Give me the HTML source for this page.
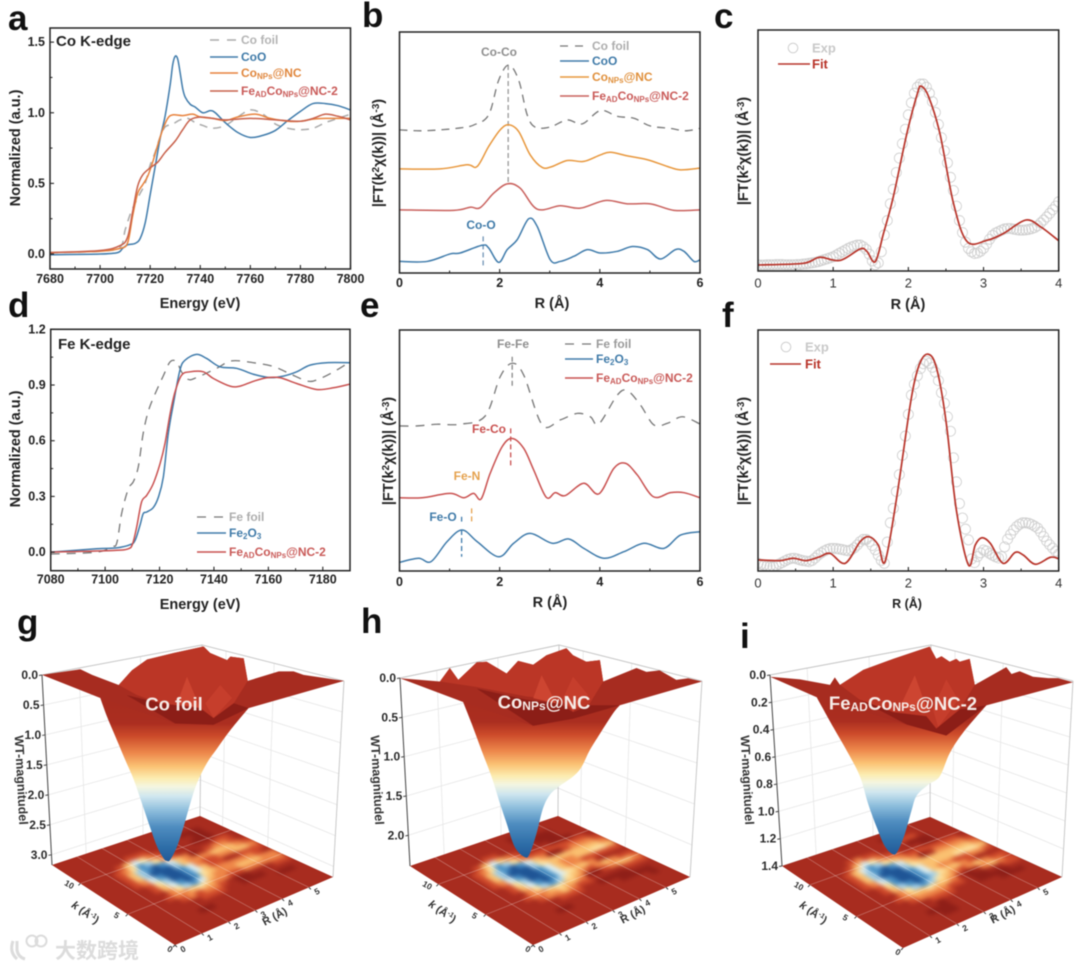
<!DOCTYPE html>
<html lang="en">
<head>
<meta charset="utf-8">
<title>XAS and wavelet transform figure</title>
<style>
html,body{margin:0;padding:0;background:#fff;}
svg{display:block;font-family:"Liberation Sans","Noto Sans CJK SC",sans-serif;filter:blur(0.4px);}
.b{font-weight:bold;}
.pl{font-weight:bold;font-size:35px;fill:#111;}
.ax{font-weight:bold;font-size:14.5px;fill:#222;text-anchor:middle;}
.yl{font-weight:bold;font-size:14.5px;fill:#222;text-anchor:middle;}
.lg{font-weight:bold;font-size:12px;dominant-baseline:central;}
.an{font-weight:bold;font-size:12px;text-anchor:middle;dominant-baseline:central;}
.sl{font-weight:bold;fill:#f6ece8;text-anchor:middle;dominant-baseline:central;}
.fl{font-weight:bold;font-size:12px;fill:#333;text-anchor:middle;dominant-baseline:central;}
</style>
</head>
<body>
<svg id="fig" xmlns="http://www.w3.org/2000/svg" width="1080" height="969" viewBox="0 0 1080 969">
<defs>
<filter id="soft" x="-5%" y="-5%" width="110%" height="110%" color-interpolation-filters="sRGB"><feGaussianBlur stdDeviation="2.1"/></filter>
</defs>
<rect width="1080" height="969" fill="#fff"/>
<g id="layer-a"></g>
<g id="layer-b"></g>
<g id="layer-c"></g>
<g id="layer-d"></g>
<g id="layer-e"></g>
<g id="layer-f"></g>
<g id="layer-g"></g>
<g id="layer-h"></g>
<g id="layer-i"></g>

<text class="pl" x="8" y="30">a</text>
<text class="pl" x="362" y="27">b</text>
<text class="pl" x="714" y="28">c</text>
<text class="pl" x="8" y="317">d</text>
<text class="pl" x="360" y="317">e</text>
<text class="pl" x="722" y="327">f</text>
<text class="pl" x="17" y="634">g</text>
<text class="pl" x="361" y="633">h</text>
<text class="pl" x="740" y="648">i</text>

<!-- axis titles -->
<text class="ax" x="0" y="0" transform="translate(20,148) rotate(-90)">Normalized (a.u.)</text>
<text class="ax" x="200" y="308">Energy (eV)</text>
<text class="ax" x="552" y="308">R (Å)</text>
<text class="ax" x="908" y="309">R (Å)</text>
<text class="ax" x="0" y="0" transform="translate(20,449) rotate(-90)">Normalized (a.u.)</text>
<text class="ax" x="200" y="609">Energy (eV)</text>
<text class="ax" x="550" y="607">R (Å)</text>
<text class="ax" x="907" y="608" style="font-size:12.5px">R (Å)</text>

<text class="yl" transform="translate(383,153) rotate(-90)">|FT(k<tspan dy="-4" font-size="10">2</tspan><tspan dy="4">χ(k))| (Å</tspan><tspan dy="-4" font-size="10">-3</tspan><tspan dy="4">)</tspan></text>
<text class="yl" transform="translate(748,151) rotate(-90)">|FT(k<tspan dy="-4" font-size="10">2</tspan><tspan dy="4">χ(k))| (Å</tspan><tspan dy="-4" font-size="10">-3</tspan><tspan dy="4">)</tspan></text>
<text class="yl" transform="translate(393,451) rotate(-90)">|FT(k<tspan dy="-4" font-size="10">2</tspan><tspan dy="4">χ(k))| (Å</tspan><tspan dy="-4" font-size="10">-3</tspan><tspan dy="4">)</tspan></text>
<text class="yl" transform="translate(748,451) rotate(-90)">|FT(k<tspan dy="-4" font-size="10">2</tspan><tspan dy="4">χ(k))| (Å</tspan><tspan dy="-4" font-size="10">-3</tspan><tspan dy="4">)</tspan></text>

<!-- panel a annotations and legend -->
<text class="b" x="56" y="46" font-size="15" fill="#222">Co K-edge</text>
<line x1="210" y1="40" x2="237" y2="40" stroke="#aaa" stroke-width="1.4" stroke-dasharray="9 8"/>
<text class="lg" x="241" y="40" fill="#b4b4b4">Co foil</text>
<line x1="210" y1="57" x2="238" y2="57" stroke="#3f7bab" stroke-width="1.4"/>
<text class="lg" x="241" y="57" fill="#3f7aa8">CoO</text>
<line x1="210" y1="73" x2="238" y2="73" stroke="#e8823c" stroke-width="1.4"/>
<text class="lg" x="241" y="73" fill="#e0863c">Co<tspan dy="3" font-size="8">NPs</tspan><tspan dy="-3">@NC</tspan></text>
<line x1="210" y1="91" x2="238" y2="91" stroke="#c8604a" stroke-width="1.4"/>
<text class="lg" x="241" y="91" fill="#c95a58">Fe<tspan dy="3" font-size="8">AD</tspan><tspan dy="-3">Co</tspan><tspan dy="3" font-size="8">NPs</tspan><tspan dy="-3">@NC-2</tspan></text>

<!-- panel b annotations and legend -->
<text class="an" x="499" y="52" fill="#8e8e8e">Co-Co</text>
<text class="an" x="481" y="225" fill="#3f7aa8">Co-O</text>
<line x1="560" y1="46" x2="587" y2="46" stroke="#777" stroke-width="1.3" stroke-dasharray="8 7"/>
<text class="lg" x="592" y="46" fill="#adadad">Co foil</text>
<line x1="560" y1="61" x2="589" y2="61" stroke="#3f7bab" stroke-width="1.4"/>
<text class="lg" x="592" y="61" fill="#3f7aa8">CoO</text>
<line x1="560" y1="77" x2="589" y2="77" stroke="#e8973c" stroke-width="1.4"/>
<text class="lg" x="592" y="77" fill="#e0903c">Co<tspan dy="3" font-size="8">NPs</tspan><tspan dy="-3">@NC</tspan></text>
<line x1="560" y1="96" x2="589" y2="96" stroke="#c9605c" stroke-width="1.4"/>
<text class="lg" x="592" y="96" fill="#c95a58">Fe<tspan dy="3" font-size="8">AD</tspan><tspan dy="-3">Co</tspan><tspan dy="3" font-size="8">NPs</tspan><tspan dy="-3">@NC-2</tspan></text>

<!-- panel c legend -->
<circle cx="793" cy="48" r="4.8" fill="none" stroke="#c8c8c8" stroke-width="0.9"/>
<text class="lg" x="812" y="48" style="font-size:13px" fill="#c9c9c9">Exp</text>
<line x1="778" y1="64" x2="810" y2="64" stroke="#b8342a" stroke-width="1.6"/>
<text class="lg" x="812" y="64" style="font-size:13px" fill="#b8342a">Fit</text>

<!-- panel d annotations and legend -->
<text class="b" x="58" y="349" font-size="15" fill="#222">Fe K-edge</text>
<line x1="197" y1="517" x2="224" y2="517" stroke="#777" stroke-width="1.3" stroke-dasharray="9 8"/>
<text class="lg" x="229" y="517" fill="#adadad">Fe foil</text>
<line x1="197" y1="533" x2="226" y2="533" stroke="#3f7bab" stroke-width="1.4"/>
<text class="lg" x="229" y="533" fill="#3f7aa8">Fe<tspan dy="3" font-size="8">2</tspan><tspan dy="-3">O</tspan><tspan dy="3" font-size="8">3</tspan></text>
<line x1="197" y1="552" x2="226" y2="552" stroke="#c9504f" stroke-width="1.4"/>
<text class="lg" x="229" y="552" fill="#c95a58">Fe<tspan dy="3" font-size="8">AD</tspan><tspan dy="-3">Co</tspan><tspan dy="3" font-size="8">NPs</tspan><tspan dy="-3">@NC-2</tspan></text>

<!-- panel e annotations and legend -->
<text class="an" x="513" y="344" fill="#8e8e8e">Fe-Fe</text>
<text class="an" x="489" y="429" fill="#c9504f">Fe-Co</text>
<text class="an" x="467" y="476" fill="#e5a24e">Fe-N</text>
<text class="an" x="443" y="517" fill="#3f7aa8">Fe-O</text>
<line x1="565" y1="344" x2="592" y2="344" stroke="#777" stroke-width="1.3" stroke-dasharray="9 8"/>
<text class="lg" x="596" y="344" fill="#9a9a9a">Fe foil</text>
<line x1="565" y1="359" x2="593" y2="359" stroke="#3f7bab" stroke-width="1.4"/>
<text class="lg" x="596" y="359" fill="#3f7aa8">Fe<tspan dy="3" font-size="8">2</tspan><tspan dy="-3">O</tspan><tspan dy="3" font-size="8">3</tspan></text>
<line x1="565" y1="378" x2="593" y2="378" stroke="#c9504f" stroke-width="1.4"/>
<text class="lg" x="596" y="378" fill="#c95a58">Fe<tspan dy="3" font-size="8">AD</tspan><tspan dy="-3">Co</tspan><tspan dy="3" font-size="8">NPs</tspan><tspan dy="-3">@NC-2</tspan></text>

<!-- panel f legend -->
<circle cx="786" cy="347" r="4.8" fill="none" stroke="#c8c8c8" stroke-width="0.9"/>
<text class="lg" x="805" y="347" style="font-size:13px" fill="#c9c9c9">Exp</text>
<line x1="770" y1="364" x2="801" y2="364" stroke="#b8342a" stroke-width="1.6"/>
<text class="lg" x="805" y="364" style="font-size:13px" fill="#b8342a">Fit</text>

<!-- 3D labels -->
<text class="sl" x="174" y="704" font-size="18.5">Co foil</text>
<text class="sl" x="544" y="702" font-size="18.5">Co<tspan dy="4" font-size="12">NPs</tspan><tspan dy="-4">@NC</tspan></text>
<text class="sl" x="903" y="703" font-size="18.5">Fe<tspan dy="4" font-size="12">AD</tspan><tspan dy="-4">Co</tspan><tspan dy="4" font-size="12">NPs</tspan><tspan dy="-4">@NC-2</tspan></text>

<text class="fl" transform="translate(21,780) rotate(87)" style="font-size:12.5px">WT-magnitudel</text>
<text class="fl" transform="translate(377,780) rotate(87)" style="font-size:12.5px">WT-magnitudel</text>
<text class="fl" transform="translate(747,780) rotate(87)" style="font-size:12.5px">WT-magnitudel</text>
<text class="fl" transform="translate(85,913) rotate(35)" style="font-size:11px"><tspan font-style="italic">k</tspan> (Å<tspan dy="-3" font-size="7">-1</tspan><tspan dy="3">)</tspan></text>
<text class="fl" transform="translate(442,912) rotate(35)" style="font-size:11px"><tspan font-style="italic">k</tspan> (Å<tspan dy="-3" font-size="7">-1</tspan><tspan dy="3">)</tspan></text>
<text class="fl" transform="translate(813,913) rotate(35)" style="font-size:11px"><tspan font-style="italic">k</tspan> (Å<tspan dy="-3" font-size="7">-1</tspan><tspan dy="3">)</tspan></text>
<text class="fl" transform="translate(275,917) rotate(-28)" style="font-size:11px">R (Å)</text>
<text class="fl" transform="translate(633,915) rotate(-28)" style="font-size:11px">R (Å)</text>
<text class="fl" transform="translate(1003,915) rotate(-28)" style="font-size:11px">R (Å)</text>

<!-- watermark -->
<g>
<path d="M13 941 Q9 952 17 959 M17 941 L17 950 Q18 957 25 959" fill="none" stroke="#dcdcdc" stroke-width="3"/>
<circle cx="32" cy="941" r="5.5" fill="none" stroke="#dcdcdc" stroke-width="2"/>
<circle cx="41" cy="941" r="5.5" fill="none" stroke="#dcdcdc" stroke-width="2"/>
<text x="55" y="958" font-size="21" font-weight="bold" fill="#dcdcdc" style="font-family:'Liberation Sans','Noto Sans CJK SC',sans-serif">大数跨境</text>
</g>
</svg>

<script>
/* ---------- panel a: Co K-edge XANES ---------- */
const aXTicks=[7680,7700,7720,7740,7760,7780,7800];
const aXMinor=[7690,7710,7730,7750,7770,7790];
const aYTicks=[0,0.5,1,1.5];
const aYMinor=[0.25,0.75,1.25];
const aFoilE=[7680,7700,7708,7710,7712,7714,7716,7718,7720,7722,7724,7726,7729,7732,7735,7738,7741,7745,7750,7755,7760,7765,7770,7775,7780,7785,7790,7795,7800];
const aFoilY=[0.01,0.02,0.05,0.17,0.28,0.36,0.43,0.5,0.63,0.72,0.83,0.9,0.92,0.95,0.96,0.93,0.91,0.89,0.91,0.97,1.02,0.99,0.92,0.89,0.88,0.89,0.93,0.96,0.99];
const aCooE=[7680,7700,7707,7709,7711,7714,7716,7718,7720,7722,7724,7726,7728,7729,7730,7731,7732,7733,7734,7736,7738,7741,7744,7746,7750,7755,7760,7765,7770,7775,7780,7785,7790,7795,7800];
const aCooY=[-0.005,0,0.01,0.04,0.065,0.075,0.11,0.22,0.42,0.62,0.82,0.98,1.2,1.34,1.4,1.38,1.28,1.17,1.11,1.06,1.04,1,1.015,1,0.93,0.86,0.825,0.84,0.875,0.945,1.01,1.065,1.065,1.05,1.02];
const aNpsE=[7680,7700,7708,7711,7713,7715,7717,7719,7721,7723,7725,7727,7729,7733,7737,7740,7745,7750,7755,7762,7768,7775,7780,7785,7790,7800];
const aNpsY=[0.01,0.02,0.04,0.08,0.27,0.43,0.49,0.55,0.65,0.77,0.88,0.96,0.985,0.98,0.99,0.97,0.96,0.945,0.97,0.99,0.96,0.94,0.94,0.955,0.96,0.96];
const aFeadE=[7680,7700,7708,7711,7713,7715,7717,7720,7723,7726,7730,7733,7736,7740,7745,7750,7760,7770,7780,7785,7790,7795,7800];
const aFeadY=[0.01,0.025,0.06,0.12,0.3,0.48,0.56,0.61,0.65,0.72,0.8,0.88,0.95,0.97,0.96,0.95,0.96,0.95,0.94,0.96,0.99,0.975,0.95];

/* ---------- panel b: Co R-space FT (arbitrary offset units) ---------- */
const rTicks6=[0,2,4,6];
const rMinor6=[1,3,5];
const bFoilR=[0,0.41,0.81,1.21,1.48,1.78,1.98,2.18,2.38,2.55,2.71,3.01,3.35,3.65,4.01,4.35,4.68,5.01,5.41,5.71,6];
const bFoilY=[59.4,59,59.4,60.2,61.4,65.6,80,86.3,80,65.6,60.5,60.6,63.5,61.9,67.4,65,64.2,61,60,59,60];
const bNpsR=[0,0.81,1.35,1.55,1.78,2.01,2.18,2.38,2.61,2.85,3.05,3.35,3.68,4.01,4.21,4.55,4.95,5.35,5.61,6];
const bNpsY=[43.2,43.2,44.9,44.2,52.5,59.4,61.5,58.7,49,43.8,44.2,46.7,46.3,49,50.1,48.6,47,44.2,42.8,43.5];
const bFeadR=[0,1.08,1.41,1.61,1.88,2.15,2.41,2.75,3.21,3.61,4.11,4.55,5.01,5.48,6];
const bFeadY=[26.2,26,27.3,27.1,33.1,37,35.2,26.5,27.9,26.9,30.1,28.7,28.7,26,26.2];
const bCooR=[0,0.55,1.01,1.21,1.65,1.78,1.98,2.15,2.35,2.58,2.75,3.01,3.21,3.48,3.75,4.01,4.35,4.65,4.95,5.21,5.51,5.68,5.88,6];
const bCooY=[4.8,4.8,7.9,8.3,11.5,10.4,4.4,9.7,13.8,22.5,19.3,5.5,4.8,6.9,9.7,8.3,9,11,9.7,5.8,9.7,9,4.8,5.5];

/* ---------- panel c: Co fit ---------- */
const rTicks4=[0,1,2,3,4];
const rMinor4=[0.5,1.5,2.5,3.5];
const expStep=0.04;
const cExpY=[2.5,2.5,2.5,2.6,2.6,2.6,2.7,2.7,2.7,2.6,2.6,2.6,2.6,2.7,2.7,2.9,3,3.2,3.4,3.6,3.9,4.3,4.7,5.1,5.5,5.9,6.6,7.3,8,8.7,9.4,10,10.4,10.8,10.8,10.1,9,7,4.2,2.6,3.4,8,15,21,28,34,41,47,53,59,65,70,74,76.5,77.8,77.8,76.5,74,70.5,66,61,55.5,50,45,39,33.5,27,21,16,12,9.4,8,7.3,7.5,8.2,9.4,11.2,13.2,14.8,15.8,16.4,17,17.5,17.7,17.7,17.4,17.2,17,17,17.1,17.3,17.6,18.1,18.8,20,21.2,22.5,24,25.5,27,28.8];
const cFitR=[0,0.6,0.82,1.09,1.36,1.45,1.56,1.67,1.8,1.98,2.12,2.17,2.27,2.42,2.6,2.78,3.04,3.27,3.56,3.76,4];
const cFitY=[2.5,3.2,5.7,4.4,9.2,8.1,3.9,15.7,30.9,57.2,73.8,76.9,72.5,57.2,28.2,12.3,12.7,15.7,21.2,18.4,12.6];

/* ---------- panel d: Fe K-edge XANES ---------- */
const dXTicks=[7080,7100,7120,7140,7160,7180];
const dXMinor=[7090,7110,7130,7150,7170];
const dYTicks=[0,0.3,0.6,0.9,1.2];
const dYMinor=[0.15,0.45,0.75,1.05];
const dFoilE=[7080,7096.9,7102.4,7104.3,7106.1,7108.5,7110.4,7112.2,7114,7115.9,7118.3,7121.4,7123.9,7126.3,7128.1,7130.6,7133.6,7141,7146.5,7154.5,7161.8,7168,7174.7,7179,7183.9,7190];
const dFoilY=[-0.01,0,0.03,0.05,0.21,0.34,0.38,0.46,0.64,0.76,0.85,0.95,1.025,1.025,0.97,0.93,0.94,0.99,1.03,1.02,1,0.96,0.92,0.935,0.97,1.025];
const dOxE=[7080,7096.9,7104.3,7109.2,7111,7112.8,7114,7115.3,7117.7,7119.6,7121.4,7123.2,7125.1,7127.5,7129.4,7133.6,7137.3,7142.2,7148.3,7154.5,7160.6,7165.5,7170.4,7175.3,7181.4,7190];
const dOxY=[0,0.018,0.023,0.04,0.063,0.144,0.207,0.216,0.24,0.297,0.405,0.638,0.8,0.98,1.034,1.065,1.043,0.998,0.99,0.958,0.94,0.948,0.971,1.007,1.02,1.02];
const dFeadE=[7080,7103,7108.5,7110.1,7111.6,7113.4,7115.3,7117.7,7120.2,7122,7123.9,7125.7,7128.1,7131.2,7136.1,7139.8,7145.9,7149.6,7154.5,7159.4,7164.3,7170.4,7177.7,7183.9,7190];
const dFeadY=[0,0.009,0.018,0.045,0.135,0.27,0.306,0.369,0.477,0.585,0.746,0.863,0.953,0.971,0.971,0.935,0.894,0.894,0.92,0.939,0.939,0.908,0.876,0.885,0.905];

/* ---------- panel e: Fe R-space FT ---------- */
const eFoilR=[0,0.35,0.75,1.21,1.71,2.01,2.25,2.48,2.85,3.21,3.55,3.81,3.98,4.35,4.55,4.81,5.08,5.35,5.65,6];
const eFoilY=[60.2,60.2,60.9,60.9,64.3,80.6,86.2,81.3,60.6,62.7,65.4,64,61,73,74.8,68.9,60.6,61.3,64,61];
const eFeadR=[0,0.45,1.01,1.28,1.48,1.63,1.81,2.05,2.25,2.48,2.68,2.93,3.11,3.31,3.68,3.98,4.28,4.51,4.75,5.07,5.41,5.68,6];
const eFeadY=[30.4,30.4,32.2,30.4,32.2,29.9,40.5,51.6,55,50.9,41.9,30.6,32.5,31.3,36.4,32,42.6,44.7,39.8,30.8,32.5,32.5,30.4];
const eOxR=[0,0.38,0.63,0.95,1.25,1.55,1.98,2.28,2.61,3.05,3.38,3.68,4.08,4.48,4.88,5.28,5.61,6];
const eOxY=[3.6,5.3,3.9,12.2,17,12.2,5.9,11.5,15.6,11.5,13.3,9.4,5.3,8,11.5,9.4,14.9,16.3];

/* ---------- panel f: Fe fit ---------- */
const fExpY=[3.2,2.8,2.4,2.1,1.9,1.8,2.3,2.9,3.5,4.2,4.8,5.2,5.3,5,4.6,4.3,4.1,3.9,4.4,5.4,6.6,7.5,8.3,8.9,9.3,9.4,9.3,9.1,8.9,8.6,8.4,8.8,9.6,10.8,12.2,13.1,13.1,12.2,10.6,8.8,6.6,4.4,3.2,12,20,26,33,40,48,56,65,73,77.5,81,84,86,87,86.2,84.5,82.5,79,74,69.6,64,58,47,37,28,22,17.4,12.9,5,3.5,6,7.5,8.7,8.3,7.3,6.5,5.9,5.4,6,10,13.2,15.2,17,18.4,19.4,20,20,19.8,19.3,18.6,17.8,16.2,14.3,12.4,10.9,9.5,8.2,7];
const fFitR=[0,0.29,0.47,0.64,0.82,0.96,1.16,1.36,1.48,1.6,1.69,1.84,2.02,2.1,2.18,2.26,2.34,2.42,2.51,2.64,2.8,2.89,2.98,3.09,3.26,3.42,3.53,3.69,3.89,4];
const fFitY=[4.6,4.3,5.3,4.3,5.9,7.3,3.2,12.2,14.2,10.8,3.9,29.5,68,81,88,90,87.5,78,60,25,2.5,10.8,13.8,11.5,3.2,7.7,6.6,2.8,5.7,5.1];

/* ---------- shared surface colour map ---------- */
const heatLevels=['#8f1f18','#a82c1f','#cf4a2b','#ee8648','#fac070','#fde2a0','#dcedef','#a4cfe6','#4a90c4','#1f5596'];
const funnelStops=[0,0.25,0.32,0.415,0.487,0.55,0.596,0.65,0.724,0.815,0.924,1];
const funnelColors=['#a52a1e','#ab2e20','#cc4a2a','#ee8a4d','#fbc375','#fcecb0','#f4f6e0','#cfe6ef','#8fbfdd','#4f8dc0','#2e6ea8','#225a98'];

/* ---------- panel g: Co foil WT ---------- */
const gZTicks=[0,0.5,1,1.5,2,2.5,3];
const gZLabels=['0.0','0.5','1.0','1.5','2.0','2.5','3.0'];
const gRLabels=[0,1,2,3,4,5];
const gKLabels=[0,5,10];
const gRimCross=[0,12.7,16.6,25.4,29.8,34.8,43.6,53.5,55.7,61.3,62.4,66.8,68.1,78.4,83.3,86.6,100,68.4,56.8,44.1,19.3];
const gRimWT=[-0.04,-0.135,-0.04,0.13,-0.12,-0.3,-0.41,-0.52,-0.41,-0.29,-0.35,-0.32,0.06,-0.1,-0.1,-0.04,0.06,0.52,0.8,0.78,0.35];
const gWallCross=[25.4,29.8,34.8,43.6,53.5,55.7,61.3,62.4,66.8,68.1,63.5,56.8,52.4,39.2,31.5];
const gWallWT=[0.13,-0.12,-0.3,-0.41,-0.52,-0.41,-0.29,-0.35,-0.32,0.06,0.44,0.69,0.52,0.44,0.3];
const gBandCross=[28,39.2,52.4,56.8,63.5,68.4,56.8,44.1];
const gBandWT=[0.3,0.44,0.52,0.69,0.44,0.52,0.8,0.78];
const gRidgeACross=[48,52.4,44.7];
const gRidgeAWT=[-0.01,0.52,0.44];
const gRidgeBCross=[59,62.9,56.8,54.1];
const gRidgeBWT=[0.13,0.35,0.69,0.44];
const gLeftCross=[19.3,21.5,24.3,27.6,30.4,33.1,35.9,38.1,40.3,41.4];
const gLeftWT=[0.35,0.66,1,1.4,1.73,2.13,2.55,2.86,3.06,3.1];
const gRightCross=[42.5,44.7,46.9,49.1,51.3,54.6,58,62.4,68.4];
const gRightWT=[3.08,2.86,2.52,2.13,1.79,1.45,1.2,0.89,0.52];
const gHeat=[
[1,1,1,1,1,1,1,1,1,1,1,1,1,1,1,1,1,1,1,1],
[1,1,1,1,1,1,1,1,1,1,1,1,1,1,1,1,1,1,1,1],
[1,1,1,1,1,1,1,1,1,1,1,1,1,1,1,0,0,0,1,1],
[1,1,1,1,1,1,1,2,2,2,1,1,1,1,1,1,0,0,1,1],
[1,1,1,1,1,2,4,6,5,3,2,1,1,1,1,0,0,0,1,1],
[1,1,1,1,2,3,5,8,7,5,3,2,1,1,1,1,1,2,2,1],
[1,1,1,1,2,4,7,8,9,8,6,4,3,0,1,2,3,3,2,1],
[1,1,1,1,2,4,7,9,9,9,7,4,3,3,3,4,4,4,3,2],
[1,1,1,1,2,3,6,8,9,9,8,6,3,2,2,3,3,4,4,3],
[1,1,1,1,1,2,5,7,9,9,8,6,4,2,2,1,1,2,2,2],
[1,1,1,1,1,2,4,6,8,9,8,5,4,3,3,3,3,3,2,1],
[1,1,1,1,1,1,3,5,7,8,6,4,3,3,3,4,4,4,3,3],
[1,1,1,1,1,2,3,3,4,5,4,3,3,2,2,3,3,3,3,3],
[1,1,1,1,1,1,2,3,2,3,3,2,1,0,0,1,1,1,2,2],
[1,1,1,1,1,1,1,1,2,2,2,1,1,0,0,0,1,1,1,1],
[1,1,1,1,1,1,1,1,1,1,1,1,1,1,1,1,1,0,0,1],
[1,1,1,1,1,1,0,0,1,1,1,1,1,1,1,1,1,1,1,1],
[1,1,1,1,1,1,1,1,1,1,1,1,1,1,1,1,1,1,1,1],
[1,1,1,1,1,1,1,1,1,1,1,1,1,1,1,1,1,1,1,1],
[1,1,1,1,1,1,1,1,1,1,1,1,1,1,1,1,1,1,1,1]];

/* ---------- panel h: CoNPs@NC WT ---------- */
const hZTicks=[0,0.5,1,1.5,2];
const hZLabels=['0.0','0.5','1.0','1.5','2.0'];
const hRLabels=[0,1,2,3,4,5];
const hKLabels=[0,5,10];
const hRimCross=[0,13.2,16.5,19.3,25.4,28.7,35.3,39.1,44.1,48.5,55.1,57.3,61.7,66.2,67.3,78.3,81.6,86,91.5,95.4,100,72.8,57.3,44.1,20.9];
const hRimWT=[0.02,0.06,-0.11,0.04,-0.18,-0.19,-0.04,-0.2,-0.15,-0.27,-0.36,-0.27,-0.19,-0.21,0.06,-0.11,-0.06,-0.08,0.04,0.02,0.06,0.36,0.51,0.62,0.32];
const hWallCross=[13.2,16.5,19.3,25.4,28.7,35.3,39.1,44.1,48.5,55.1,57.3,61.7,66.2,67.3,62.8,57.3,52.9,41.9,25.4];
const hWallWT=[0.06,-0.11,0.04,-0.18,-0.19,-0.04,-0.2,-0.15,-0.27,-0.36,-0.27,-0.19,-0.21,0.06,0.34,0.42,0.29,0.25,0.13];
const hBandCross=[25.4,41.9,52.9,57.3,62.8,72.8,57.3,44.1];
const hBandWT=[0.15,0.29,0.34,0.45,0.36,0.36,0.53,0.62];
const hRidgeACross=[46.9,51.8,44.1];
const hRidgeAWT=[-0.02,0.34,0.27];
const hRidgeBCross=[57.3,62.3,57.3,54];
const hRidgeBWT=[0,0.23,0.44,0.27];
const hLeftCross=[20.9,23.7,27,30.3,33.1,35.3,38,41.4];
const hLeftWT=[0.32,0.59,0.93,1.26,1.6,1.85,2.15,2.28];
const hRightCross=[43,45.2,47.2,49.1,51.8,57.3,60.1,62.8,66.2,70.6,72.8];
const hRightWT=[2.23,1.98,1.68,1.52,1.41,1.26,1.14,0.93,0.72,0.46,0.36];
const hHeat=[
[1,1,1,1,1,1,1,1,1,1,1,1,1,1,1,1,1,1,1,1],
[1,1,1,1,1,1,1,1,1,1,1,1,0,0,0,1,1,1,1,1],
[1,1,1,1,1,1,1,1,1,1,1,1,0,0,0,0,0,1,1,1],
[1,1,1,1,1,1,1,2,2,1,1,1,1,1,0,0,0,1,1,1],
[1,1,1,1,1,2,4,6,4,3,2,1,1,1,1,0,0,0,1,1],
[1,1,1,1,2,3,5,8,7,5,3,2,2,2,2,2,2,2,2,1],
[1,1,1,1,2,4,7,8,9,8,6,4,3,0,0,2,3,3,3,2],
[1,1,1,1,2,4,7,9,9,9,7,5,4,4,4,4,4,4,4,3],
[1,1,1,1,2,3,6,8,9,9,8,6,4,3,3,4,4,5,5,4],
[1,1,1,1,1,2,5,7,9,9,8,6,4,3,3,2,2,2,2,2],
[1,1,1,1,1,2,4,6,8,9,8,6,5,4,4,3,1,1,1,1],
[1,1,1,1,1,1,3,5,7,8,7,5,4,3,2,3,4,3,2,2],
[1,1,1,1,1,2,3,3,4,5,4,4,3,0,0,2,3,4,4,3],
[1,1,1,1,1,1,2,3,3,4,3,2,2,1,1,1,1,2,2,2],
[1,1,1,1,1,1,1,1,2,2,2,1,1,0,0,0,0,1,1,1],
[1,1,1,1,1,1,1,1,1,1,1,1,1,1,1,0,0,0,0,1],
[1,1,1,1,1,1,0,0,1,1,1,1,1,1,1,1,1,1,0,1],
[1,1,1,1,1,1,1,1,1,1,1,1,1,1,1,1,1,1,1,1],
[1,1,1,1,1,1,1,1,1,1,1,1,1,1,1,1,1,1,1,1],
[1,1,1,1,1,1,1,1,1,1,1,1,1,1,1,1,1,1,1,1]];

/* ---------- panel i: FeADCoNPs@NC-2 WT ---------- */
const iZTicks=[0,0.2,0.4,0.6,0.8,1,1.2,1.4];
const iZLabels=['0.0','0.2','0.4','0.6','0.8','1.0','1.2','1.4'];
const iRLabels=[1,2,3,4,5];
const iKLabels=[0,5,10];
const iRimCross=[0,9.9,19.8,21.4,23.1,30.8,40.7,52.7,54.9,56.6,59.3,61.5,62.6,65.9,67.6,78,79.7,82.4,86.8,91.8,95.1,100,71.4,58.2,45.1,15.4];
const iRimWT=[0,0.02,0.06,0.005,0.06,-0.05,-0.13,-0.22,-0.13,-0.15,-0.11,-0.13,-0.11,-0.13,0.06,-0.07,-0.02,-0.04,0,0.01,0.01,0.04,0.21,0.43,0.35,0.15];
const iWallCross=[23.1,30.8,40.7,52.7,54.9,56.6,59.3,61.5,62.6,65.9,67.6,62.6,54.9,51.6,40.7,29.7];
const iWallWT=[0.06,-0.05,-0.13,-0.22,-0.13,-0.15,-0.11,-0.13,-0.11,-0.13,0.06,0.24,0.38,0.29,0.26,0.17];
const iBandCross=[29.7,40.7,51.6,54.9,62.6,71.4,58.2,45.1];
const iBandWT=[0.17,0.26,0.29,0.38,0.24,0.21,0.43,0.35];
const iRidgeACross=[47.8,52.2,42.9];
const iRidgeAWT=[-0.01,0.26,0.22];
const iRidgeBCross=[58.2,62.1,55.5,53.8];
const iRidgeBWT=[0.02,0.17,0.37,0.24];
const iLeftCross=[15.4,20.9,25.8,29.7,32.4,35.2,37.9,40.7];
const iLeftWT=[0.15,0.37,0.56,0.73,0.93,1.1,1.24,1.3];
const iRightCross=[42.3,44.5,46.7,48.4,52.2,56,59.3,63.7,71.4];
const iRightWT=[1.27,1.15,0.98,0.87,0.79,0.73,0.56,0.41,0.21];
const iHeat=[
[1,1,1,1,1,1,1,1,1,1,1,1,1,1,1,1,1,1,1,1],
[1,1,1,1,1,1,1,1,1,1,1,1,0,0,0,1,1,1,1,1],
[1,1,1,1,1,1,1,1,1,1,1,1,2,2,2,2,1,1,1,1],
[1,1,1,1,1,1,2,3,2,2,1,1,1,1,0,0,0,1,1,1],
[1,1,1,1,1,2,4,6,5,3,2,2,1,1,1,0,0,1,1,1],
[1,1,1,1,2,4,6,8,7,5,4,3,2,2,2,2,2,2,2,1],
[1,1,1,1,2,4,7,8,9,8,6,4,3,0,1,3,3,3,3,2],
[1,1,1,1,2,4,7,9,9,9,7,5,4,4,4,4,4,4,4,3],
[1,1,1,1,2,3,6,8,9,9,8,6,4,4,4,4,5,5,5,4],
[1,1,1,1,1,2,5,8,9,9,8,6,4,3,3,2,2,3,3,2],
[1,1,1,1,1,2,4,7,8,9,8,7,5,4,4,3,2,1,1,1],
[1,1,1,1,1,1,3,5,7,8,7,5,4,3,2,3,4,3,2,2],
[1,1,1,1,1,2,3,4,4,5,4,4,3,1,0,1,3,4,3,2],
[1,1,1,1,1,1,2,3,3,3,3,2,2,1,0,0,1,1,2,2],
[1,1,1,1,1,1,1,1,2,2,2,1,1,1,0,0,0,0,1,1],
[1,1,1,1,1,1,1,1,0,1,1,1,1,1,1,1,0,0,0,1],
[1,1,1,1,1,1,0,0,0,1,1,1,1,1,1,1,1,1,1,1],
[1,1,1,1,1,1,1,0,0,1,1,1,1,1,1,1,1,1,1,1],
[1,1,1,1,1,1,1,1,1,1,1,1,1,1,1,1,1,1,1,1],
[1,1,1,1,1,1,1,1,1,1,1,1,1,1,1,1,1,1,1,1]];

/* ---------- helpers ---------- */
const NS='http://www.w3.org/2000/svg';
function mk(parent,tag,attrs,name){
  const node=document.createElementNS(NS,tag);
  for(const key in attrs){node.setAttribute(key,attrs[key]);}
  
  
  parent.appendChild(node);
  return node;
}
const scale=(d0,d1,r0,r1)=>v=>r0+(v-d0)*(r1-r0)/(d1-d0);
const lerp=(a,b,t)=>a+(b-a)*t;
function smooth(px,py){
  let d='M'+px[0].toFixed(2)+' '+py[0].toFixed(2);
  for(let i=0;i<px.length-1;i++){
    const x0=px[Math.max(i-1,0)],y0=py[Math.max(i-1,0)];
    const x1=px[i],y1=py[i],x2=px[i+1],y2=py[i+1];
    const x3=px[Math.min(i+2,px.length-1)],y3=py[Math.min(i+2,px.length-1)];
    d+=' C'+(x1+(x2-x0)/6).toFixed(2)+' '+(y1+(y2-y0)/6).toFixed(2)+' '+(x2-(x3-x1)/6).toFixed(2)+' '+(y2-(y3-y1)/6).toFixed(2)+' '+x2.toFixed(2)+' '+y2.toFixed(2);
  }
  return d;
}

function chart(cfg){
  const g=document.getElementById(cfg.layer);
  const sx=scale(cfg.xDom[0],cfg.xDom[1],cfg.box[0],cfg.box[1]);
  const sy=scale(cfg.yDom[0],cfg.yDom[1],cfg.box[3],cfg.box[2]);
  const clip=mk(g,'clipPath',{id:cfg.layer+'-clip'},cfg.id+'-clip');
  mk(clip,'rect',{x:cfg.box[0],y:cfg.box[2],width:cfg.box[1]-cfg.box[0],height:cfg.box[3]-cfg.box[2]},cfg.id+'-clip-rect');
  const plot=mk(g,'g',{'clip-path':'url(#'+cfg.layer+'-clip)'},cfg.id+'-plot-area');
  (cfg.marks||[]).forEach(m=>{
    const tone={stroke:m.color,'stroke-width':1.3,'stroke-dasharray':'5 3'};
    mk(plot,'line',Object.assign({x1:sx(m.x),x2:sx(m.x),y1:sy(m.y0),y2:sy(m.y1)},tone),m.name);
  });
  (cfg.circles||[]).forEach(set=>{
    set.y.forEach((v,i)=>{
      mk(plot,'circle',{cx:sx(i*set.step),cy:sy(v),r:5,fill:'none',stroke:'#cdcdcd','stroke-width':0.8},set.name+'-point');
    });
  });
  cfg.series.forEach(s=>{
    const a={d:smooth(s.x.map(sx),s.y.map(sy)),fill:'none',stroke:s.color,'stroke-width':s.w||1.5,'stroke-linejoin':'round'};
    if(s.dash){a['stroke-dasharray']=s.dash;}
    mk(plot,'path',a,s.name);
  });
  mk(g,'rect',{x:cfg.box[0],y:cfg.box[2],width:cfg.box[1]-cfg.box[0],height:cfg.box[3]-cfg.box[2],fill:'none',stroke:'#222','stroke-width':1.5},cfg.id+'-frame');
  cfg.xTicks.forEach(t=>{
    mk(g,'line',{x1:sx(t),x2:sx(t),y1:cfg.box[3],y2:cfg.box[3]-4,stroke:'#222','stroke-width':1.1},cfg.id+'-x-tick');
    const lbl=mk(g,'text',{x:sx(t),y:cfg.box[3]+cfg.tickGap,'text-anchor':'middle','dominant-baseline':'central','font-size':cfg.bold?12.5:13,'font-weight':cfg.bold?'bold':'normal',fill:cfg.bold?'#222':'#333'},cfg.id+'-x-tick-label');
    lbl.textContent=t;
  });
  cfg.xMinor.forEach(t=>{
    mk(g,'line',{x1:sx(t),x2:sx(t),y1:cfg.box[3],y2:cfg.box[3]-2.5,stroke:'#222','stroke-width':1},cfg.id+'-x-minor-tick');
  });
  (cfg.yTicks||[]).forEach(t=>{
    mk(g,'line',{x1:cfg.box[0],x2:cfg.box[0]+4,y1:sy(t),y2:sy(t),stroke:'#222','stroke-width':1.1},cfg.id+'-y-tick');
    const lbl=mk(g,'text',{x:cfg.box[0]-5,y:sy(t),'text-anchor':'end','dominant-baseline':'central','font-size':12.5,'font-weight':'bold',fill:'#222'},cfg.id+'-y-tick-label');
    lbl.textContent=t.toFixed(1);
  });
  (cfg.yMinor||[]).forEach(t=>{
    mk(g,'line',{x1:cfg.box[0],x2:cfg.box[0]+2.5,y1:sy(t),y2:sy(t),stroke:'#222','stroke-width':1},cfg.id+'-y-minor-tick');
  });
}

function surface(p){
  const g=document.getElementById(p.layer);
  const C=p.corners;
  const rMax=5.9,kMax=13;
  const crossX=c=>lerp(C.TL[0],C.TR[0],c/100);
  const zY=v=>p.zero+v*p.slope;
  const floorPt=(u,v)=>{
    const ax=lerp(C.O[0],C.BL[0],v),ay=lerp(C.O[1],C.BL[1],v);
    const bx=lerp(C.BR[0],C.BB[0],v),by=lerp(C.BR[1],C.BB[1],v);
    return [lerp(ax,bx,u),lerp(ay,by,u)];
  };
  const pts=(cx,wt)=>cx.map((c,i)=>crossX(c).toFixed(1)+','+zY(wt[i]).toFixed(1)).join(' ');
  const pair=a=>a[0].toFixed(1)+','+a[1].toFixed(1);
  const edge=(a,b,f)=>[lerp(a[0],b[0],f),lerp(a[1],b[1],f)];

  /* walls: box edges and grid */
  const grid={stroke:'#e6e6e6','stroke-width':0.8};
  p.zTicks.forEach(t=>{
    const f=t/p.zMax;
    const a=edge(C.TL,C.BL,f),b=edge(C.TB,C.BB,f),c=edge(C.TR,C.BR,f);
    mk(g,'polyline',Object.assign({points:pair(a)+' '+pair(b)+' '+pair(c),fill:'none'},grid),p.id+'-wall-grid-z');
  });
  p.kLabels.filter(k=>k>0).forEach(k=>{
    const v=k/kMax;
    const a=edge(C.TB,C.TL,v),b=edge(C.BB,C.BL,v);
    mk(g,'line',Object.assign({x1:a[0],y1:a[1],x2:b[0],y2:b[1]},grid),p.id+'-wall-grid-k');
  });
  [1,3].forEach(r=>{
    const u=r/rMax;
    const a=edge(C.TB,C.TR,u),b=edge(C.BB,C.BR,u);
    mk(g,'line',Object.assign({x1:a[0],y1:a[1],x2:b[0],y2:b[1]},grid),p.id+'-wall-grid-r');
  });
  mk(g,'polyline',{points:pair(C.TL)+' '+pair(C.TB)+' '+pair(C.TR),fill:'none',stroke:'#c4c4c4','stroke-width':0.9},p.id+'-top-edge');
  mk(g,'line',{x1:C.TB[0],y1:C.TB[1],x2:C.BB[0],y2:C.BB[1],stroke:'#c4c4c4','stroke-width':0.9},p.id+'-back-edge');
  mk(g,'line',{x1:C.TR[0],y1:C.TR[1],x2:C.BR[0],y2:C.BR[1],stroke:'#c4c4c4','stroke-width':0.9},p.id+'-right-edge');

  /* floor heatmap */
  const floorPts=pair(C.O)+' '+pair(C.BR)+' '+pair(C.BB)+' '+pair(C.BL);
  mk(g,'polygon',{points:floorPts,fill:heatLevels[1]},p.id+'-floor');
  const clip=mk(g,'clipPath',{id:p.id+'-floor-clip'},p.id+'-floor-clip');
  mk(clip,'polygon',{points:floorPts},p.id+'-floor-clip-shape');
  const clipG=mk(g,'g',{'clip-path':'url(#'+p.id+'-floor-clip)'},p.id+'-floor-clip-group');
  const heat=mk(clipG,'g',{filter:'url(#soft)'},p.id+'-heatmap');
  const rows=p.heat.length;
  p.heat.forEach((row,ri)=>{
    const cols=row.length;
    const v1=(rows-ri)/rows+0.004,v0=(rows-ri-1)/rows-0.004;
    row.forEach((val,ci)=>{
      const u0=ci/cols-0.004,u1=(ci+1)/cols+0.004;
      const poly=[floorPt(u0,v0),floorPt(u1,v0),floorPt(u1,v1),floorPt(u0,v1)].map(pair).join(' ');
      mk(heat,'polygon',{points:poly,fill:heatLevels[val]},p.id+'-heat-cell');
    });
  });
  p.kLabels.filter(k=>k>0).forEach(k=>{
    const a=floorPt(0,k/kMax),b=floorPt(1,k/kMax);
    mk(clipG,'line',{x1:a[0],y1:a[1],x2:b[0],y2:b[1],stroke:'#ffffff','stroke-opacity':0.3,'stroke-width':0.8},p.id+'-floor-grid-k');
  });
  [1,2,3,4,5].forEach(r=>{
    const a=floorPt(r/rMax,0),b=floorPt(r/rMax,1);
    mk(clipG,'line',{x1:a[0],y1:a[1],x2:b[0],y2:b[1],stroke:'#ffffff','stroke-opacity':0.3,'stroke-width':0.8},p.id+'-floor-grid-r');
  });

  /* funnel */
  const tip=Math.max(...p.leftWT);
  const grad=mk(g,'linearGradient',{id:p.id+'-grad',gradientUnits:'userSpaceOnUse',x1:0,x2:0,y1:zY(0),y2:zY(tip)},p.id+'-funnel-gradient');
  funnelStops.forEach((s,i)=>{
    mk(grad,'stop',{offset:s,'stop-color':funnelColors[i]},p.id+'-funnel-gradient-stop');
  });
  const fx=p.leftCross.concat(p.rightCross).map(crossX);
  const fy=p.leftWT.concat(p.rightWT).map(zY);
  const fd=smooth(fx,fy)+' Z';
  mk(g,'path',{d:fd,fill:'url(#'+p.id+'-grad)'},p.id+'-funnel');

  /* surface rim */
  mk(g,'polygon',{points:pts(p.rimC,p.rimW),fill:'#a72c20'},p.id+'-surface-rim');
  mk(g,'polygon',{points:pts(p.wallC,p.wallW),fill:'#bb3626'},p.id+'-surface-wall');
  mk(g,'polygon',{points:pts(p.ridgeAC,p.ridgeAW),fill:'#cd4531'},p.id+'-surface-ridge-a');
  mk(g,'polygon',{points:pts(p.ridgeBC,p.ridgeBW),fill:'#c63e2c'},p.id+'-surface-ridge-b');
  mk(g,'polygon',{points:pts(p.bandC,p.bandW),fill:'#8c1e17'},p.id+'-surface-band');

  /* axis */
  mk(g,'line',{x1:C.TL[0],y1:C.TL[1],x2:C.BL[0],y2:C.BL[1],stroke:'#444','stroke-width':1},p.id+'-z-axis');
  p.zTicks.forEach((t,i)=>{
    const a=edge(C.TL,C.BL,t/p.zMax);
    mk(g,'line',{x1:a[0],y1:a[1],x2:a[0]-3,y2:a[1]+0.5,stroke:'#444','stroke-width':1},p.id+'-z-tick');
    const lbl=mk(g,'text',{x:a[0]-4,y:a[1],'text-anchor':'end','dominant-baseline':'central','font-size':12,'font-weight':'bold',fill:'#2a2a2a'},p.id+'-z-tick-label');
    lbl.textContent=p.zLabels[i];
  });
  p.rLabels.forEach(r=>{
    const a=floorPt(r/rMax,0);
    mk(g,'line',{x1:a[0],y1:a[1],x2:a[0]+2,y2:a[1]+2,stroke:'#333','stroke-width':0.9},p.id+'-r-tick');
    const lx=a[0]+8,ly=a[1]+4;
    const lbl=mk(g,'text',{x:lx,y:ly,'text-anchor':'middle','dominant-baseline':'central','font-size':8.5,'font-weight':'bold',fill:'#333',transform:'rotate(-28 '+lx+' '+ly+')'},p.id+'-r-tick-label');
    lbl.textContent=r;
  });
  p.kLabels.forEach(k=>{
    const a=floorPt(0,k/kMax);
    mk(g,'line',{x1:a[0],y1:a[1],x2:a[0]-2,y2:a[1]+2,stroke:'#333','stroke-width':0.9},p.id+'-k-tick');
    const lx=a[0]-(k===0?5:11),ly=a[1]+(k===0?4:1);
    const lbl=mk(g,'text',{x:lx,y:ly,'text-anchor':'middle','dominant-baseline':'central','font-size':8.5,'font-weight':'bold',fill:'#333',transform:'rotate(30 '+lx+' '+ly+')'},p.id+'-k-tick-label');
    lbl.textContent=k;
  });
}

/* ---------- draw ---------- */
const BLUE='#3f7bab',ORANGE='#e8973c',RED='#c9605c',FIT='#b8342a';
chart({id:'panel-a',layer:'layer-a',box:[50,350.5,28,269],xDom:[7680,7800],yDom:[-0.106,1.6],tickGap:10,bold:true,xTicks:aXTicks,xMinor:aXMinor,yTicks:aYTicks,yMinor:aYMinor,series:[
 {name:'series-co-foil',x:aFoilE,y:aFoilY,color:'#aaaaaa',dash:'8 6'},
 {name:'series-coo',x:aCooE,y:aCooY,color:BLUE},
 {name:'series-conps',x:aNpsE,y:aNpsY,color:'#e8823c'},
 {name:'series-fead',x:aFeadE,y:aFeadY,color:'#c8604a'}]});
chart({id:'panel-b',layer:'layer-b',box:[399.5,700,32,273],xDom:[0,6],yDom:[0,100],tickGap:10,bold:true,xTicks:rTicks6,xMinor:rMinor6,
 marks:[{name:'marker-co-co',x:2.17,y0:86.3,y1:37.3,color:'#999'},{name:'marker-co-o',x:1.67,y0:15.2,y1:2.1,color:'#6f93b5'}],series:[
 {name:'series-co-foil',x:bFoilR,y:bFoilY,color:'#777777',dash:'8 6',w:1.3},
 {name:'series-conps',x:bNpsR,y:bNpsY,color:ORANGE},
 {name:'series-fead',x:bFeadR,y:bFeadY,color:RED},
 {name:'series-coo',x:bCooR,y:bCooY,color:BLUE}]});
chart({id:'panel-c',layer:'layer-c',box:[758,1058.7,30,271],xDom:[0,4],yDom:[0,100.3],tickGap:12,bold:false,xTicks:rTicks4,xMinor:rMinor4,
 circles:[{name:'series-exp',y:cExpY,step:expStep}],series:[{name:'series-fit',x:cFitR,y:cFitY,color:FIT,w:1.7}]});
chart({id:'panel-d',layer:'layer-d',box:[50.7,350,329.3,570.7],xDom:[7080,7190],yDom:[-0.1,1.2],tickGap:9,bold:true,xTicks:dXTicks,xMinor:dXMinor,yTicks:dYTicks,yMinor:dYMinor,series:[
 {name:'series-fe-foil',x:dFoilE,y:dFoilY,color:'#777777',dash:'9 7',w:1.3},
 {name:'series-fe2o3',x:dOxE,y:dOxY,color:BLUE},
 {name:'series-fead',x:dFeadE,y:dFeadY,color:'#c9504f'}]});
chart({id:'panel-e',layer:'layer-e',box:[399.5,700,330,571],xDom:[0,6],yDom:[0,100],tickGap:11,bold:true,xTicks:rTicks6,xMinor:rMinor6,
 marks:[{name:'marker-fe-fe',x:2.25,y0:88.9,y1:76.5,color:'#888'},{name:'marker-fe-co',x:2.22,y0:59.2,y1:43.3,color:'#c9504f'},{name:'marker-fe-n',x:1.44,y0:26,y1:19.8,color:'#e5a24e'},{name:'marker-fe-o-upper',x:1.24,y0:22.5,y1:20.5,color:'#3f7bab'},{name:'marker-fe-o-lower',x:1.24,y0:17,y1:5.9,color:'#3f7bab'}],series:[
 {name:'series-fe-foil',x:eFoilR,y:eFoilY,color:'#777777',dash:'9 7',w:1.3},
 {name:'series-fead',x:eFeadR,y:eFeadY,color:'#c9504f'},
 {name:'series-fe2o3',x:eOxR,y:eOxY,color:BLUE}]});
chart({id:'panel-f',layer:'layer-f',box:[758,1058.7,330,571],xDom:[0,4],yDom:[0,100],tickGap:12,bold:false,xTicks:rTicks4,xMinor:rMinor4,
 circles:[{name:'series-exp',y:fExpY,step:expStep}],series:[{name:'series-fit',x:fFitR,y:fFitY,color:FIT,w:1.7}]});

surface({id:'panel-g',layer:'layer-g',zero:677.3,slope:59.2,zMax:3.17,
 corners:{TL:[42,675],TB:[202,645],TR:[344,681],BL:[52,865],BB:[200,816],BR:[333,877],O:[175,945]},
 zTicks:gZTicks,zLabels:gZLabels,rLabels:gRLabels,kLabels:gKLabels,heat:gHeat,
 rimC:gRimCross,rimW:gRimWT,wallC:gWallCross,wallW:gWallWT,bandC:gBandCross,bandW:gBandWT,
 ridgeAC:gRidgeACross,ridgeAW:gRidgeAWT,ridgeBC:gRidgeBCross,ridgeBW:gRidgeBWT,
 leftCross:gLeftCross,leftWT:gLeftWT,rightCross:gRightCross,rightWT:gRightWT});
surface({id:'panel-h',layer:'layer-h',zero:676.7,slope:79.2,zMax:2.39,
 corners:{TL:[400,678],TB:[559,645],TR:[702,681],BL:[410,866],BB:[558,816],BR:[690,877],O:[533,945]},
 zTicks:hZTicks,zLabels:hZLabels,rLabels:hRLabels,kLabels:hKLabels,heat:hHeat,
 rimC:hRimCross,rimW:hRimWT,wallC:hWallCross,wallW:hWallWT,bandC:hBandCross,bandW:hBandWT,
 ridgeAC:hRidgeACross,ridgeAW:hRidgeAWT,ridgeBC:hRidgeBCross,ridgeBW:hRidgeBWT,
 leftCross:hLeftCross,leftWT:hLeftWT,rightCross:hRightCross,rightWT:hRightWT});
surface({id:'panel-i',layer:'layer-i',zero:676.7,slope:136.7,zMax:1.4,
 corners:{TL:[770,675],TB:[931,645],TR:[1073,681],BL:[782,866],BB:[930,817],BR:[1062,877],O:[903,948]},
 zTicks:iZTicks,zLabels:iZLabels,rLabels:iRLabels,kLabels:iKLabels,heat:iHeat,
 rimC:iRimCross,rimW:iRimWT,wallC:iWallCross,wallW:iWallWT,bandC:iBandCross,bandW:iBandWT,
 ridgeAC:iRidgeACross,ridgeAW:iRidgeAWT,ridgeBC:iRidgeBCross,ridgeBW:iRidgeBWT,
 leftCross:iLeftCross,leftWT:iLeftWT,rightCross:iRightCross,rightWT:iRightWT});
</script>
</body>
</html>
